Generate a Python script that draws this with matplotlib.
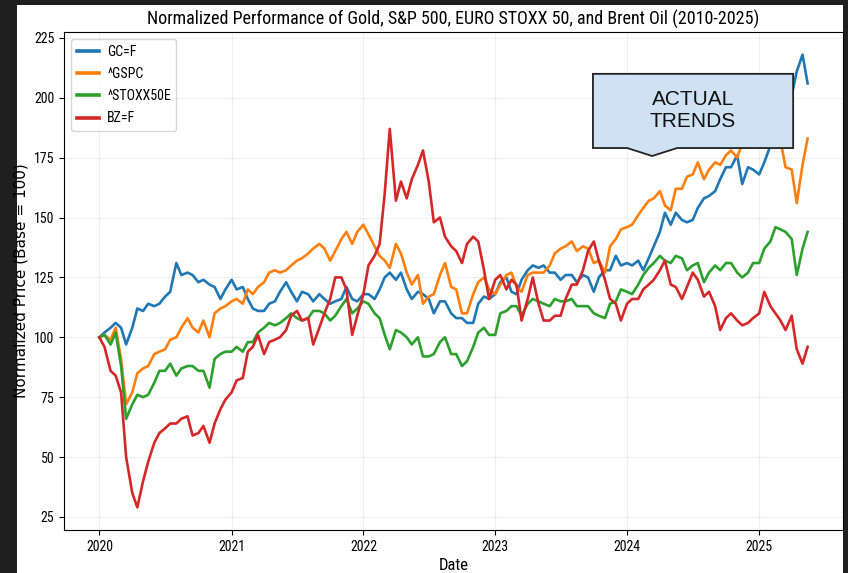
import matplotlib
matplotlib.use('Agg')
import matplotlib.pyplot as plt
import matplotlib.dates as mdates
from matplotlib.patches import Rectangle, Polygon
import pandas as pd

# semi-monthly samples (base = 100)
dates = pd.date_range('2020-01-01', '2025-05-15', freq='SMS')

gold = [100, 102, 104, 106, 104, 97, 104, 112, 111, 114, 113, 114, 117, 119, 131, 126, 127, 126, 123, 124, 122, 121, 116, 120,
        124, 120, 121, 116, 112, 111, 111, 114, 115, 119, 123, 119, 115, 119, 118, 115, 118, 116, 114, 115, 116, 121, 116, 115,
        118, 118, 116, 120, 125, 127, 124, 127, 120, 116, 119, 118, 116, 110, 115, 115, 110, 108, 108, 106, 106, 114, 117, 116,
        118, 123, 125, 119, 118, 124, 128, 130, 129, 130, 127, 127, 124, 126, 126, 123, 126, 125, 119, 125, 128, 128, 134, 130,
        131, 130, 132, 128, 133, 138, 144, 152, 147, 152, 149, 148, 149, 154, 158, 159, 161, 166, 171, 171, 176, 164, 171, 170,
        168, 173, 180, 185, 180, 191, 201, 211, 218, 206]

spx = [100, 101, 99, 104, 91, 72, 77, 85, 87, 88, 93, 94, 95, 99, 100, 104, 108, 104, 102, 107, 100, 110, 112, 113,
       115, 116, 114, 120, 118, 121, 123, 127, 128, 127, 128, 130, 132, 133, 135, 137, 139, 137, 132, 136, 141, 144, 139, 144,
       147, 143, 138, 134, 132, 129, 139, 135, 127, 122, 126, 114, 117, 118, 126, 131, 121, 120, 110, 110, 118, 123, 125, 120,
       118, 122, 126, 127, 121, 119, 126, 127, 127, 127, 130, 135, 137, 138, 140, 136, 138, 137, 131, 132, 127, 138, 141, 145,
       146, 147, 151, 154, 157, 158, 161, 155, 153, 162, 162, 167, 168, 173, 166, 170, 173, 172, 176, 178, 175, 181, 185, 186,
       180, 182, 185, 188, 182, 171, 170, 156, 172, 183]

stoxx = [100, 101, 97, 102, 88, 66, 72, 76, 75, 76, 81, 86, 86, 89, 84, 87, 88, 88, 86, 86, 79, 91, 93, 94,
         94, 96, 94, 98, 98, 102, 104, 106, 105, 106, 108, 110, 108, 107, 108, 111, 111, 110, 107, 109, 113, 116, 110, 112,
         115, 114, 110, 108, 101, 95, 103, 102, 100, 97, 100, 92, 92, 93, 98, 100, 93, 93, 88, 90, 96, 102, 104, 101,
         101, 110, 111, 113, 113, 109, 114, 116, 115, 114, 113, 116, 115, 115, 116, 113, 113, 113, 110, 109, 108, 114, 115, 120,
         119, 118, 122, 126, 129, 131, 134, 132, 131, 134, 133, 128, 130, 131, 123, 127, 130, 128, 131, 131, 127, 125, 127, 131,
         131, 137, 140, 146, 145, 144, 141, 126, 137, 144]

brent = [100, 96, 86, 84, 77, 50, 35, 29, 40, 48, 56, 60, 62, 64, 64, 66, 67, 59, 60, 63, 56, 64, 70, 74,
         77, 82, 83, 94, 96, 101, 93, 98, 99, 100, 103, 109, 111, 107, 108, 97, 104, 110, 116, 125, 125, 120, 101, 109,
         118, 130, 134, 139, 160, 187, 157, 165, 158, 166, 172, 178, 165, 148, 150, 142, 138, 136, 131, 139, 142, 140, 128, 116,
         124, 126, 120, 124, 122, 107, 116, 125, 114, 107, 107, 109, 109, 116, 122, 122, 128, 136, 140, 132, 124, 116, 114, 107,
         114, 116, 116, 120, 122, 124, 128, 132, 122, 121, 116, 121, 127, 124, 117, 119, 113, 103, 108, 110, 107, 105, 106, 108,
         110, 119, 113, 110, 107, 103, 109, 95, 89, 96]

labels = ['GC=F', '^GSPC', '^STOXX50E', 'BZ=F']
colors = ['#1f77b4', '#ff7f0e', '#2ca02c', '#d62728']

narrow = ['Roboto Condensed', 'DejaVu Sans Condensed', 'DejaVu Sans']

fig = plt.figure(figsize=(8.48, 5.73), dpi=100, facecolor='#1f1f1f')
# white page inside the dark screenshot frame
fig.patches.append(Rectangle((17 / 848, 0), 826 / 848, 568 / 573,
                             transform=fig.transFigure, facecolor='white',
                             edgecolor='none', zorder=-1))

ax = fig.add_axes([64 / 848, 43 / 573, 779 / 848, 498 / 573])

for series, name, c in zip([gold, spx, stoxx, brent], labels, colors):
    ax.plot(dates, series, color=c, label=name, linewidth=1.9)

ax.set_title('Normalized Performance of Gold, S&P 500, EURO STOXX 50, and Brent Oil (2010-2025)',
             fontsize=13, family=narrow, pad=5)
ax.set_xlabel('Date', fontsize=12, family=narrow, labelpad=3)
ax.set_ylabel('Normalized Price (Base = 100)', fontsize=11)
ax.yaxis.set_label_coords(-0.046, 0.5)
ax.set_yticks([25, 50, 75, 100, 125, 150, 175, 200, 225])
ax.xaxis.set_major_locator(mdates.YearLocator())
ax.xaxis.set_major_formatter(mdates.DateFormatter('%Y'))
for lab in ax.get_xticklabels() + ax.get_yticklabels():
    lab.set_family(narrow)
    lab.set_fontsize(10)
ax.grid(True, alpha=0.2)

leg = ax.legend(loc='upper left', prop={'family': narrow, 'size': 10},
                handlelength=1.6, handletextpad=0.6, labelspacing=0.6)
for h in leg.get_lines():
    h.set_linewidth(2.6)

# callout box
bubble = [(0.679, 0.916), (0.936, 0.916), (0.936, 0.767), (0.787, 0.767),
          (0.755, 0.751), (0.723, 0.767), (0.679, 0.767)]
ax.add_patch(Polygon(bubble, closed=True, transform=ax.transAxes,
                     facecolor='#cfe2f3', edgecolor='#222222', linewidth=1.3,
                     zorder=5))
ax.text(0.8074, 0.8414, 'ACTUAL\nTRENDS', transform=ax.transAxes,
        ha='center', va='center', fontsize=15, family='Liberation Sans',
        color='#111111', zorder=6)

fig.savefig('out.png', dpi=100, facecolor=fig.get_facecolor())
